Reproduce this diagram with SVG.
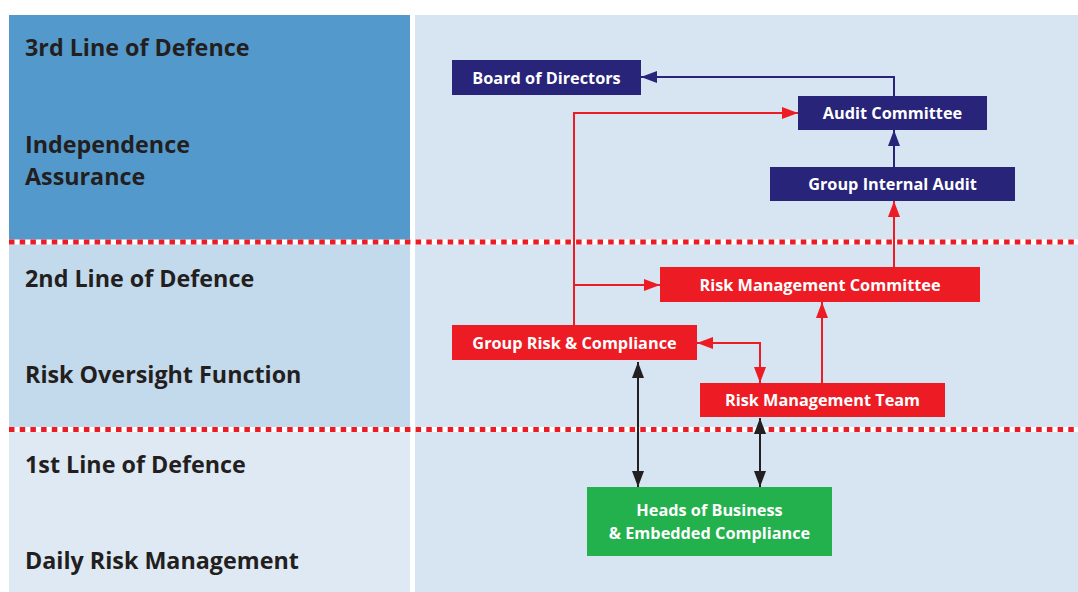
<svg xmlns="http://www.w3.org/2000/svg" width="1078" height="592" viewBox="0 0 1078 592">
<style>
.lbl{font-family:"Open Sans","Liberation Sans",sans-serif;font-weight:bold;font-size:23.3px;fill:#231F20}
.nt{font-family:"Open Sans","Liberation Sans",sans-serif;font-weight:bold;font-size:16.3px;fill:#ffffff;text-anchor:middle}
.navy{fill:#28247A}
.red{fill:#ED1C24}
.green{fill:#22B14C}
.cn{fill:none;stroke:#28247A;stroke-width:2}
.cr{fill:none;stroke:#ED1C24;stroke-width:2}
.ck{fill:none;stroke:#231F20;stroke-width:2}
.dot{stroke:#ED1C24;stroke-width:5;stroke-dasharray:5.5 5.2}
</style>
<defs>
<marker id="an" viewBox="0 0 16 12" refX="16" refY="6" markerWidth="16" markerHeight="12" markerUnits="userSpaceOnUse" orient="auto"><path d="M0,0 L16,6 L0,12 z" fill="#28247A"/></marker>
<marker id="ar" viewBox="0 0 16 12" refX="16" refY="6" markerWidth="16" markerHeight="12" markerUnits="userSpaceOnUse" orient="auto-start-reverse"><path d="M0,0 L16,6 L0,12 z" fill="#ED1C24"/></marker>
<marker id="ak" viewBox="0 0 16 12" refX="16" refY="6" markerWidth="16" markerHeight="12" markerUnits="userSpaceOnUse" orient="auto-start-reverse"><path d="M0,0 L16,6 L0,12 z" fill="#231F20"/></marker>
</defs>
<rect width="1078" height="592" fill="#ffffff"/>
<g id="bands">
<rect x="9" y="15" width="401" height="227" fill="#5499CB"/>
<rect x="9" y="242" width="401" height="187" fill="#C3D9EC"/>
<rect x="9" y="429" width="401" height="163" fill="#DEE9F4"/>
<rect x="415" y="15" width="663" height="577" fill="#D7E5F2"/>
<line x1="9" y1="242" x2="1078" y2="242" stroke="#ffffff" stroke-width="5"/>
<line x1="9" y1="242" x2="1078" y2="242" class="dot"/>
<line x1="9" y1="429.5" x2="1078" y2="429.5" stroke="#ffffff" stroke-width="5"/>
<line x1="9" y1="429.5" x2="1078" y2="429.5" class="dot"/>
</g>
<g id="labels">
<text class="lbl" x="25" y="56">3rd Line of Defence</text>
<text class="lbl" x="25" y="153">Independence</text>
<text class="lbl" x="25" y="185">Assurance</text>
<text class="lbl" x="25" y="287">2nd Line of Defence</text>
<text class="lbl" x="25" y="383">Risk Oversight Function</text>
<text class="lbl" x="25" y="473">1st Line of Defence</text>
<text class="lbl" x="25" y="569">Daily Risk Management</text>
</g>
<g id="connectors">
<path class="cn" d="M894,96 V77 H641" marker-end="url(#an)"/>
<path class="cn" d="M894,167 V130" marker-end="url(#an)"/>
<path class="cr" d="M894,267 V201" marker-end="url(#ar)"/>
<path class="cr" d="M574,325 V113 H798" marker-end="url(#ar)"/>
<path class="cr" d="M574,285 H660" marker-end="url(#ar)"/>
<path class="cr" d="M697,343 H760 V383" marker-start="url(#ar)" marker-end="url(#ar)"/>
<path class="cr" d="M822,383 V302" marker-end="url(#ar)"/>
<path class="ck" d="M638,362 V487" marker-start="url(#ak)" marker-end="url(#ak)"/>
<path class="ck" d="M760,418 V487" marker-start="url(#ak)" marker-end="url(#ak)"/>
</g>
<g id="board"><rect class="navy" x="452" y="60" width="189" height="35"/><text class="nt" x="546.5" y="83.5">Board of Directors</text></g>
<g id="audit"><rect class="navy" x="798" y="96" width="189" height="34"/><text class="nt" x="892.5" y="119">Audit Committee</text></g>
<g id="gia"><rect class="navy" x="770" y="167" width="245" height="34"/><text class="nt" x="892.5" y="190">Group Internal Audit</text></g>
<g id="rmc"><rect class="red" x="660" y="267" width="320" height="35"/><text class="nt" x="820" y="290.5">Risk Management Committee</text></g>
<g id="grc"><rect class="red" x="452" y="325" width="245" height="35"/><text class="nt" x="574.5" y="348.5">Group Risk &amp; Compliance</text></g>
<g id="rmt"><rect class="red" x="700" y="383" width="245" height="34"/><text class="nt" x="822.5" y="406">Risk Management Team</text></g>
<g id="heads"><rect class="green" x="587" y="487" width="245" height="69"/><text class="nt" x="709.5" y="516">Heads of Business</text><text class="nt" x="709.5" y="539">&amp; Embedded Compliance</text></g>
</svg>
